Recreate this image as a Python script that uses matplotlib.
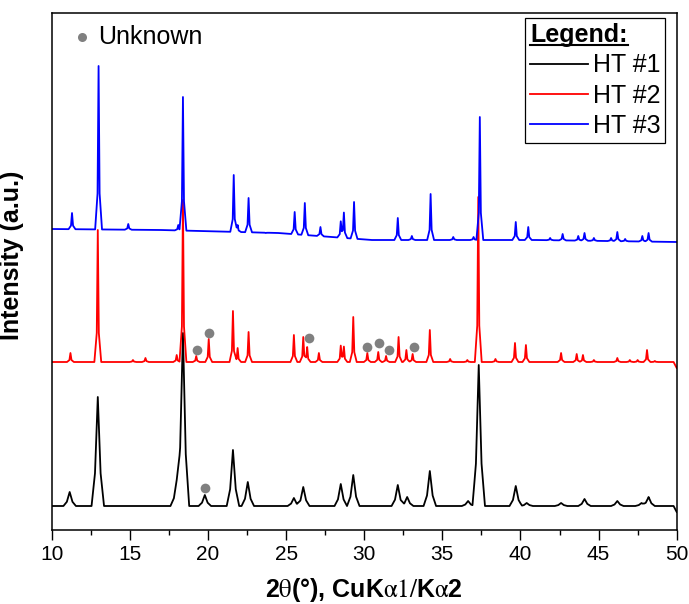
import numpy as np
import matplotlib
matplotlib.use("Agg")
import matplotlib.pyplot as plt
from matplotlib.lines import Line2D

plt.rcParams["font.family"] = ["Liberation Sans", "DejaVu Sans"]
plt.rcParams["mathtext.fontset"] = "stix"

# ---- data (intensity in arbitrary units) ----
ht1_base_x = [10.0, 49.8, 50.0]
ht1_base_y = [24, 24, 18]
ht1_pos = [11.15, 12.95, 18.0, 18.4, 19.8, 21.6, 22.55, 25.5, 26.1, 28.5, 29.3,
           32.15, 32.75, 34.2, 36.65, 37.33, 39.7, 40.4, 42.6, 44.1, 46.2, 47.75, 48.2]
ht1_top = [38, 133, 50, 197, 35, 80, 48, 32, 43, 46, 55,
           45, 33, 59, 29, 165, 44, 27, 27, 31, 29, 27, 33]

ht2_base_x = [10.0, 49.8, 50.0]
ht2_base_y = [168, 168, 162]
ht2_pos = [11.2, 12.95, 15.2, 16.0, 18.0, 18.4, 19.25, 20.05, 21.6, 21.9, 22.6,
           25.5, 26.1, 26.35, 27.1, 28.5, 28.7, 29.3, 30.2, 30.9, 31.4, 32.2,
           32.7, 33.1, 34.2, 35.5, 36.6, 37.3, 38.4, 39.65, 40.35, 42.6, 43.6,
           44.0, 44.7, 46.2, 47.0, 47.5, 48.1, 48.6]
ht2_top = [177, 300, 170, 172, 175, 330, 174, 191, 219, 182, 198,
           195, 193, 183, 177, 184, 183, 213, 177, 178, 174, 193,
           180, 176, 200, 171, 170, 333, 171, 187, 185, 177, 176,
           175, 170, 172, 170, 170, 180, 169]

ht3_base_x = [10.0, 17.0, 24.5, 30.5, 41.0, 50.0]
ht3_base_y = [301, 300, 297, 290, 290, 288]
ht3_pos = [11.3, 13.0, 14.9, 18.1, 18.4, 21.65, 21.9, 22.6, 23.7, 25.55, 26.2,
           27.2, 28.5, 28.7, 29.35, 32.15, 33.05, 34.25, 35.7, 37.0, 37.4, 39.7,
           40.5, 41.9, 42.7, 43.7, 44.1, 44.7, 45.8, 46.2, 46.7, 47.8, 48.2]
ht3_top = [317, 464, 306, 305, 433, 355, 305, 332, 297, 318, 327,
           303, 308, 317, 328, 312, 294, 336, 293, 293, 413, 308,
           303, 292, 296, 294, 297, 292, 292, 298, 291, 294, 297]

unknown_x = [19.8, 19.3, 20.05, 26.45, 30.2, 30.95, 31.6, 33.2]
unknown_y = [42, 180, 197, 192, 183, 187, 180, 183]

labels = ["HT #1", "HT #2", "HT #3"]
colors = ["black", "#ff0000", "#0000ff"]


def build_trace(base_x, base_y, pos, top, hw, knee_x, knee_y):
    # peaks are foot/knee/apex/knee/foot polylines stacked on the baseline
    peak_x = [[p - hw, p - knee_x * hw, p, p + knee_x * hw, p + hw] for p in pos]
    xs = np.unique(np.concatenate([base_x] + peak_x))
    base = np.interp(xs, base_x, base_y)
    ys = base.copy()
    for px, p, t in zip(peak_x, pos, top):
        h = t - np.interp(p, base_x, base_y)
        ys += np.interp(xs, px, [0, knee_y * h, h, knee_y * h, 0], left=0, right=0)
    return xs, ys


fig = plt.figure(figsize=(6.89, 6.04), dpi=100)
ax = fig.add_axes([51.7 / 689, 74 / 604, 625 / 689, 517.5 / 604])

traces = [
    build_trace(ht1_base_x, ht1_base_y, ht1_pos, ht1_top, 0.4, 0.45, 0.3),
    build_trace(ht2_base_x, ht2_base_y, ht2_pos, ht2_top, 0.22, 0.3, 0.22),
    build_trace(ht3_base_x, ht3_base_y, ht3_pos, ht3_top, 0.22, 0.3, 0.22),
]
for (x, y), c, lbl in zip(traces, colors, labels):
    ax.plot(x, y, color=c, lw=1.3, label=lbl)

ax.plot(unknown_x, unknown_y, "o", color="#808080", ms=7, mec="none", zorder=5)

# "Unknown" key in the top-left corner
ax.plot([0.0485], [0.953], "o", color="#808080", ms=6.5, mec="none",
        transform=ax.transAxes)
ax.text(0.074, 0.9386, "Unknown", fontsize=18, transform=ax.transAxes,
        va="baseline", ha="left")

ax.set_xlim(10, 50)
ax.set_ylim(0, 517.5)
ax.set_xticks(np.arange(10, 51, 5))
ax.set_xticks(np.arange(12.5, 50, 5), minor=True)
ax.set_yticks([])
ax.tick_params(axis="x", which="major", direction="out", length=7, width=1,
               labelsize=15, pad=3.5)
ax.tick_params(axis="x", which="minor", direction="out", length=3.5, width=1)
for s in ax.spines.values():
    s.set_linewidth(1.1)

ax.set_xlabel(r"2$\mathrm{\theta}$(°), CuK$\mathrm{\alpha 1/}$K$\mathrm{\alpha}$2",
              fontsize=18, fontweight="bold")
ax.xaxis.set_label_coords(0.5, -0.089)
ax.set_ylabel("Intensity (a.u.)", fontsize=18, fontweight="bold")
ax.yaxis.set_label_coords(-0.045, 0.53)

leg = ax.legend(loc="upper right", bbox_to_anchor=(0.982, 0.989),
                borderaxespad=0, fontsize=18, title="Legend:",
                title_fontproperties={"weight": "bold", "size": 18},
                alignment="left", fancybox=False, framealpha=1,
                edgecolor="black", handlelength=2.3, handletextpad=0.2,
                labelspacing=0.25, borderpad=0.2)
leg.get_frame().set_linewidth(0.9)

# underline the legend title
fig.canvas.draw()
bb = leg.get_title().get_window_extent()
inv = fig.transFigure.inverted()
(x0, y0), (x1, _) = inv.transform([(bb.x0, bb.y0 + 2), (bb.x1, bb.y0 + 2)])
fig.add_artist(Line2D([x0, x1], [y0, y0], color="black", lw=1.5,
                      transform=fig.transFigure))

fig.savefig("out.png", dpi=100)
